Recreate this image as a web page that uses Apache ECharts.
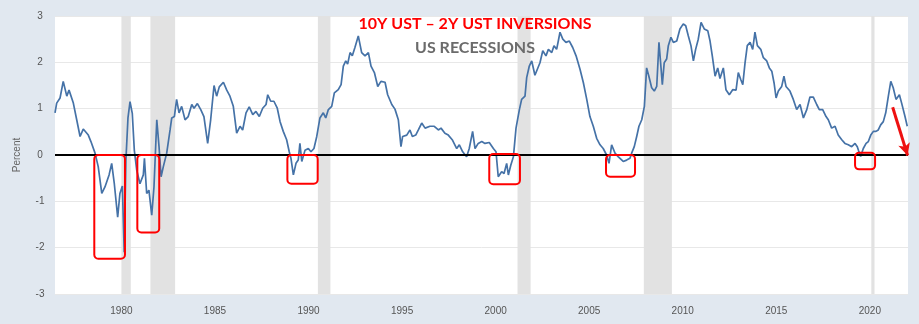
<!DOCTYPE html>
<html>
<head>
<meta charset="utf-8">
<script src="https://cdn.jsdelivr.net/npm/echarts@6/dist/echarts.min.js"></script>
<style>html,body{margin:0;padding:0;background:#e1e8f0}#c{width:919px;height:324px}</style>
</head>
<body>
<div id="c"></div>
<script>
// decimal years
const dates = [
1976.45,1976.54,1976.72,1976.89,1977.08,1977.2,1977.43,1977.61,1977.79,1977.96,1978.23,1978.37,1978.59,1978.76,1978.95,1979.12,1979.34,1979.48,1979.62,1979.8,1979.92,1980.05,1980.15,1980.24,1980.35,1980.46,1980.58,1980.69,1980.82,1980.99,1981.17,1981.23,1981.35,1981.47,1981.62,1981.74,1981.89,1982.01,1982.12,1982.24,1982.42,1982.6,1982.69,1982.83,1982.95,1983.08,1983.22,
1983.4,1983.57,1983.76,1983.88,1984.06,1984.24,1984.41,1984.61,1984.77,1984.95,1985.09,1985.23,1985.45,1985.63,1985.8,1985.98,1986.16,1986.34,1986.48,1986.66,1986.83,1987.02,1987.19,1987.37,1987.55,1987.73,1987.82,1987.98,1988.15,1988.33,1988.48,1988.65,1988.83,1988.97,1989.06,1989.19,1989.33,1989.45,1989.54,1989.64,1989.81,1989.99,1990.13,1990.29,1990.44,
1990.61,1990.79,1990.92,1991.06,1991.24,1991.38,1991.59,1991.74,1991.86,1991.99,1992.09,1992.22,1992.34,1992.48,1992.66,1992.84,1993.02,1993.2,1993.34,1993.52,1993.7,1993.87,1994.09,1994.23,1994.45,1994.62,1994.8,1994.94,1995.03,1995.25,1995.42,1995.55,1995.73,1995.87,1996.05,1996.23,1996.49,1996.72,1996.94,1997.08,1997.29,1997.47,1997.68,
1997.92,1998.06,1998.24,1998.45,1998.59,1998.77,1998.9,1999.07,1999.26,1999.43,1999.66,1999.88,2000.02,2000.14,2000.32,2000.45,2000.59,2000.68,2000.81,2000.95,2001.09,2001.27,2001.39,2001.57,2001.66,2001.8,2001.93,2002.1,2002.23,2002.37,2002.52,2002.69,2002.82,2003.0,2003.12,2003.26,2003.35,2003.44,2003.59,2003.76,2003.94,2004.12,2004.3,2004.51,2004.69,
2004.87,2005.04,2005.22,2005.4,2005.58,2005.75,2005.93,2006.06,2006.2,2006.38,2006.56,2006.82,2007.0,2007.18,2007.27,2007.41,2007.54,2007.66,2007.81,2007.95,2008.07,2008.19,2008.34,2008.48,2008.61,2008.73,2008.84,2008.91,2009.01,2009.14,2009.23,2009.37,2009.5,2009.68,2009.85,2010.03,2010.16,2010.3,2010.44,2010.57,2010.69,2010.83,2010.98,2011.15,2011.34,2011.46,2011.58,2011.73,2011.87,
2011.99,2012.17,2012.31,2012.49,2012.67,2012.85,2012.97,2013.1,2013.21,2013.33,2013.45,2013.6,2013.74,2013.86,2013.99,2014.17,2014.31,2014.49,2014.63,2014.76,2014.88,2014.99,2015.11,2015.29,2015.41,2015.52,2015.73,2015.91,2016.09,2016.27,2016.45,2016.63,2016.8,2016.98,2017.16,2017.3,2017.48,2017.66,2017.78,2017.96,2018.14,2018.31,2018.5,2018.67,2018.85,2019.03,2019.21,2019.33,
2019.4,2019.51,2019.65,2019.8,2019.92,2020.05,2020.19,2020.33,2020.45,2020.58,2020.72,2020.85,2020.99,2021.12,2021.25,2021.4,2021.58,2021.7,2021.88,2022.0
];
// 10Y - 2Y spread, percent
const spread = [
0.91,1.12,1.23,1.59,1.27,1.40,1.12,0.76,0.40,0.56,0.43,0.29,0.04,-0.25,-0.83,-0.69,-0.43,-0.18,-0.62,-1.34,-0.83,-0.67,-2.1,-0.11,0.8,1.15,0.9,0.1,-0.33,-0.62,-0.43,-0.07,-0.83,-0.76,-1.30,-0.69,0.76,0.18,-0.47,-0.25,0.04,0.54,0.8,0.83,1.2,0.91,1.05,
0.76,0.83,1.09,1.01,1.11,0.98,0.83,0.25,0.76,1.50,1.27,1.47,1.57,1.40,1.27,1.05,0.47,0.62,0.54,0.91,1.04,0.87,0.94,0.83,1.01,1.09,1.30,1.16,1.16,1.01,0.72,0.51,0.33,0.07,-0.07,-0.43,-0.18,-0.11,0.25,-0.14,0.10,0.14,0.07,0.14,0.40,
0.80,0.91,0.80,0.98,1.05,1.34,1.41,1.52,1.92,2.03,1.96,2.21,2.14,2.32,2.57,2.21,2.14,2.21,1.92,1.78,1.48,1.59,1.57,1.30,1.09,0.99,0.76,0.18,0.40,0.43,0.54,0.40,0.43,0.54,0.69,0.58,0.62,0.62,0.54,0.58,0.47,0.43,0.33,
0.14,0.22,0.07,-0.04,0.14,0.51,0.14,0.25,0.29,0.25,0.27,0.14,0.07,-0.47,-0.36,-0.40,-0.18,-0.43,-0.22,-0.04,0.58,0.98,1.20,1.27,1.67,1.92,2.03,1.72,1.85,1.99,2.25,2.14,2.28,2.21,2.36,2.28,2.46,2.65,2.50,2.43,2.46,2.32,2.14,1.85,1.56,
1.20,0.83,0.62,0.36,0.22,0.14,0.0,-0.18,0.22,0.04,-0.04,-0.14,-0.11,-0.07,0.04,0.18,0.40,0.62,0.76,1.05,1.88,1.70,1.45,1.38,1.48,2.43,1.88,1.52,1.99,2.07,2.36,2.54,2.43,2.46,2.72,2.83,2.79,2.57,2.36,2.03,2.28,2.50,2.86,2.72,2.68,2.46,2.14,1.70,1.88,
1.65,1.88,1.41,1.30,1.41,1.40,1.78,1.63,1.52,1.99,2.36,2.43,2.28,2.65,2.36,2.28,2.10,2.03,1.88,1.81,1.56,1.23,1.38,1.48,1.70,1.48,1.38,1.20,0.98,1.09,0.80,0.98,1.25,1.25,1.09,0.98,0.98,0.83,0.76,0.58,0.62,0.43,0.33,0.25,0.22,0.18,0.25,0.18,
0.09,-0.03,0.14,0.25,0.29,0.43,0.51,0.51,0.54,0.65,0.72,0.91,1.27,1.59,1.45,1.20,1.30,1.12,0.83,0.62
];
// NBER recessions [start, end]
const recessions = [[1980.0,1980.5],[1981.55,1982.87],[1990.5,1991.17],[2001.17,2001.87],[2007.92,2009.42],[2020.08,2020.25]];
// inversion highlight boxes [x0, x1, yTop, yBottom]
const inversionBoxes = [[1978.55,1980.19,0.0,-2.24],[1980.85,1982.02,0.0,-1.67],[1988.87,1990.49,0.0,-0.62],[1999.66,2001.3,0.02,-0.63],[2005.9,2007.45,0.0,-0.47],[2019.21,2020.28,0.05,-0.31]];
// arrow from, to
const arrowPts = [[2021.22,1.03],[2022.02,-0.01]];
const xTickLabels = [1980,1985,1990,1995,2000,2005,2010,2015,2020];
const yTicks = [-3,-2,-1,0,1,2,3];
const titleMain = '10Y UST \u2013 2Y UST INVERSIONS';
const titleSub = 'US RECESSIONS';

const lineData = dates.map((d,i)=>[d, spread[i]]);

const chart = echarts.init(document.getElementById('c'), null, {renderer:'canvas'});
chart.setOption({
  backgroundColor:'#e1e8f0',
  animation:false,
  grid:{left:55,right:11,top:16,bottom:30,show:true,backgroundColor:'#ffffff',borderWidth:0},
  xAxis:{type:'value',min:1976.45,max:2022.04,
    axisLine:{show:false,onZero:false},axisTick:{show:false},splitLine:{show:false},
    axisLabel:{customValues:xTickLabels,color:'#555',fontSize:10,fontFamily:'Liberation Sans, Arial',margin:12,formatter:v=>String(Math.round(v))}
  },
  yAxis:{type:'value',min:yTicks[0],max:yTicks[yTicks.length-1],interval:1,
    name:'Percent',nameLocation:'middle',nameGap:33,nameTextStyle:{color:'#666',fontSize:10,fontFamily:'Liberation Sans, Arial'},
    axisLine:{show:false},axisTick:{show:false},
    axisLabel:{color:'#555',fontSize:10,fontFamily:'Liberation Sans, Arial',margin:15,align:'center'},
    splitLine:{show:true,lineStyle:{color:'#e8e8e8',width:1}}
  },
  graphic:[
    {type:'text',style:{text:titleMain,x:475,y:24,fill:'#ff0000',font:'bold 16px Lato, "Open Sans", sans-serif',textAlign:'center',textVerticalAlign:'middle'},z:100},
    {type:'text',style:{text:titleSub,x:475,y:48,fill:'#6b6b6b',font:'bold 16px Lato, "Open Sans", sans-serif',textAlign:'center',textVerticalAlign:'middle'},z:100}
  ],
  series:[
    {type:'line',data:[],silent:true,z:1,
      markArea:{silent:true,itemStyle:{color:'#e2e2e2'},data:recessions.map(r=>[{xAxis:r[0]},{xAxis:r[1]}])}
    },
    {type:'line',data:lineData,showSymbol:false,silent:true,z:3,
      lineStyle:{color:'#4572a7',width:1.7},
      markLine:{silent:true,symbol:'none',label:{show:false},lineStyle:{color:'#000',width:2,type:'solid'},data:[{yAxis:0}]}
    },
    {type:'custom',silent:true,z:5,data:inversionBoxes,
      renderItem:(params,api)=>{
        const p0 = api.coord([api.value(0),api.value(2)]);
        const p1 = api.coord([api.value(1),api.value(3)]);
        return {type:'rect',shape:{x:p0[0],y:p0[1],width:p1[0]-p0[0],height:p1[1]-p0[1],r:4},
          style:{fill:'none',stroke:'#ff0000',lineWidth:2}};
      }
    },
    {type:'line',data:[],silent:true,z:6,
      markLine:{silent:true,symbol:['none','arrow'],symbolSize:[9,12],label:{show:false},
        lineStyle:{color:'#ee1111',width:3,type:'solid'},
        data:[[{coord:arrowPts[0]},{coord:arrowPts[1]}]]}
    }
  ]
});
</script>
</body>
</html>
